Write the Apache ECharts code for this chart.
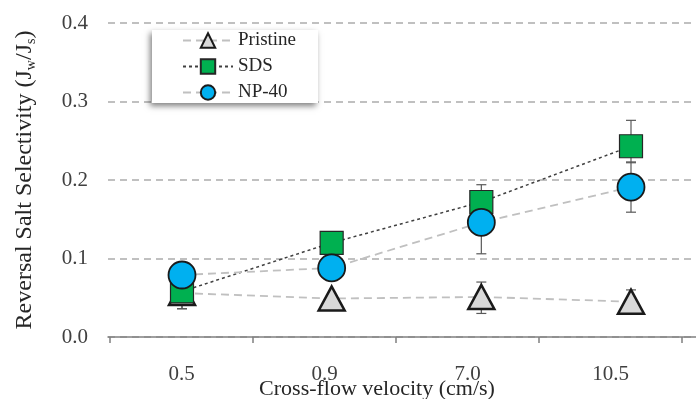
<!DOCTYPE html>
<html><head><meta charset="utf-8">
<script src="https://cdn.jsdelivr.net/npm/echarts@6/dist/echarts.min.js"></script>
<style>html,body{margin:0;padding:0;background:#fff}#c{width:696px;height:399px}</style>
</head><body><div id="c"></div>
<script>
var categories = ['0.5', '0.9', '7.0', '10.5'];
var pristine = [0.056, 0.049, 0.051, 0.045];
var sds = [0.058, 0.120, 0.172, 0.243];
var np40 = [0.079, 0.088, 0.146, 0.191];
var pristineLow = [0.036, 0.044, 0.030, 0.040];
var pristineHigh = [0.076, 0.054, 0.070, 0.060];
var sdsLow = [0.036, 0.112, 0.150, 0.222];
var sdsHigh = [0.080, 0.128, 0.194, 0.276];
var npLow = [0.070, 0.082, 0.106, 0.159];
var npHigh = [0.088, 0.094, 0.186, 0.223];
var yTicks = [0, 0.1, 0.2, 0.3, 0.4];

var FONT = 'Liberation Serif';
function pts(arr){ return arr.map(function(v,i){ return [i, v]; }); }
function errs(lo, hi){ return lo.map(function(v,i){ return [i, v, hi[i]]; }); }

function errRender(params, api){
  var x = api.value(0), lo = api.value(1), hi = api.value(2);
  var a = api.coord([x, lo]), b = api.coord([x, hi]);
  var hw = 5;
  var st = {stroke:'#595959', lineWidth:1.2};
  return {type:'group', children:[
    {type:'line', shape:{x1:a[0],y1:a[1],x2:b[0],y2:b[1]}, style:st},
    {type:'line', shape:{x1:a[0]-hw,y1:a[1],x2:a[0]+hw,y2:a[1]}, style:st},
    {type:'line', shape:{x1:b[0]-hw,y1:b[1],x2:b[0]+hw,y2:b[1]}, style:st}
  ]};
}

var chart = echarts.init(document.getElementById('c'), null, {renderer:'canvas'});
chart.setOption({
  animation:false,
  backgroundColor:'#fff',
  grid:[
    {left:108, right:0, top:23, bottom:62, containLabel:false, outerBoundsMode:'none'},
    {left:110, right:14, top:23, bottom:62, containLabel:false, outerBoundsMode:'none'}
  ],
  legend:{
    orient:'vertical', left:152, top:30,
    data:['Pristine','SDS','NP-40'],
    itemWidth:50, itemHeight:18, itemGap:7,
    padding:[1,22,1,30],
    backgroundColor:'#fff', borderWidth:0,
    shadowColor:'rgba(0,0,0,0.5)', shadowBlur:6, shadowOffsetX:-2, shadowOffsetY:3,
    textStyle:{fontFamily:FONT, fontSize:19, color:'#262626'}
  },
  xAxis:[
    {type:'value', gridIndex:0, min:-0.4944, max:3.4343,
     axisLine:{show:true, lineStyle:{color:'#808080', width:1.5}},
     axisTick:{show:false}, axisLabel:{show:false}, splitLine:{show:false}},
    {type:'category', gridIndex:1, data:categories, boundaryGap:true,
     axisLine:{show:false},
     axisTick:{show:true, length:6, lineStyle:{color:'#808080', width:1.5}},
     axisLabel:{fontFamily:FONT, fontSize:21, color:'#404040', margin:27},
     name:'Cross-flow velocity (cm/s)', nameLocation:'middle', nameGap:41, nameMoveOverlap:false,
     nameTextStyle:{fontFamily:FONT, fontSize:22, color:'#262626', padding:[0,38,0,0]}}
  ],
  yAxis:[
    {type:'value', gridIndex:0, min:0, max:0.4, interval:0.1,
     axisLine:{show:false}, axisTick:{show:false},
     axisLabel:{fontFamily:FONT, fontSize:21, color:'#404040', margin:20,
       formatter:function(v){ return v.toFixed(1); }},
     splitLine:{show:true, lineStyle:{color:'#c0c0c0', width:2, type:[7,5]}},
     name:'Reversal Salt Selectivity (J{sub|w}/J{sub|s})', nameLocation:'middle', nameGap:70, nameRotate:90, nameMoveOverlap:false,
     nameTextStyle:{fontFamily:FONT, fontSize:24, color:'#262626', lineHeight:26,
       rich:{sub:{fontFamily:FONT, fontSize:14, color:'#262626', verticalAlign:'bottom', lineHeight:16, padding:[7,0,0,0]}}}},
    {type:'value', gridIndex:1, min:0, max:0.4, show:false}
  ],
  series:[
    {type:'custom', name:'errP', xAxisIndex:0, yAxisIndex:0, z:1, renderItem:errRender, data:errs(pristineLow, pristineHigh), silent:true},
    {type:'custom', name:'errS', xAxisIndex:0, yAxisIndex:0, z:1, renderItem:errRender, data:errs(sdsLow, sdsHigh), silent:true},
    {type:'custom', name:'errN', xAxisIndex:0, yAxisIndex:0, z:1, renderItem:errRender, data:errs(npLow, npHigh), silent:true},
    {type:'line', name:'Pristine', xAxisIndex:0, yAxisIndex:0, z:3, data:pts(pristine),
     symbol:'triangle', symbolSize:[26,24],
     lineStyle:{color:'#c0c0c0', width:1.8, type:[8,5]},
     itemStyle:{color:'#d9d9d9', borderColor:'#1a1a1a', borderWidth:2.5}},
    {type:'line', name:'SDS', xAxisIndex:0, yAxisIndex:0, z:4, data:pts(sds),
     symbol:'rect', symbolSize:23,
     lineStyle:{color:'#404040', width:1.5, type:[3,3]},
     itemStyle:{color:'#00b050', borderColor:'#262626', borderWidth:1.2}},
    {type:'line', name:'NP-40', xAxisIndex:0, yAxisIndex:0, z:5, data:pts(np40),
     symbol:'circle', symbolSize:27,
     lineStyle:{color:'#c0c0c0', width:1.8, type:[8,5]},
     itemStyle:{color:'#00b0f0', borderColor:'#1a1a1a', borderWidth:1.8}}
  ]
});
</script></body></html>
